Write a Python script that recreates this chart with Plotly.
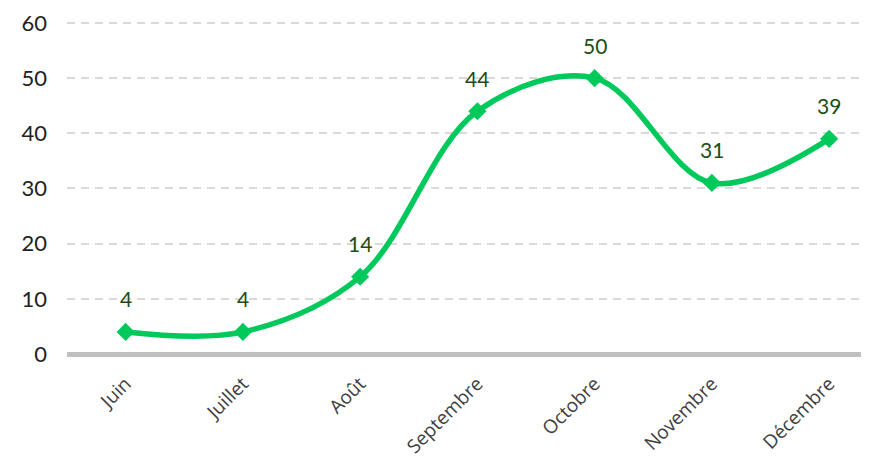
import plotly.graph_objects as go

months = ["Juin", "Juillet", "Août", "Septembre", "Octobre", "Novembre", "Décembre"]
values = [4, 4, 14, 44, 50, 31, 39]
y_ticks = [0, 10, 20, 30, 40, 50, 60]

line_color = "#00C95C"
label_color = "#1B4D14"

fig = go.Figure()
fig.add_trace(go.Scatter(
    x=months, y=values, mode="lines+markers",
    line=dict(color=line_color, width=5.5, shape="spline", smoothing=1.0),
    marker=dict(symbol="diamond", size=14, color=line_color),
    hoverinfo="skip", showlegend=False,
))
for m, v in zip(months, values):
    fig.add_annotation(x=m, y=v, text=str(v), showarrow=False, yshift=33,
                       font=dict(family="Lato", size=21, color=label_color))

fig.update_layout(
    width=861, height=459,
    margin=dict(l=59, r=0, t=10, b=113),
    plot_bgcolor="white", paper_bgcolor="white",
    xaxis=dict(type="category", range=[-0.5, 6.34], showgrid=False,
               tickangle=-45, ticks="", showline=False, zeroline=False,
               automargin=False, ticklabelstandoff=14,
               tickfont=dict(family="Open Sans", size=19, color="#404040")),
    yaxis=dict(range=[0, 60.9], tickvals=y_ticks, showgrid=True,
               gridcolor="#D9D9D9", griddash="8px,6px", gridwidth=1.5,
               zeroline=True, zerolinecolor="#BFBFBF", zerolinewidth=5,
               ticks="", ticklabelstandoff=19, automargin=False,
               tickfont=dict(family="Lato", size=22, color="#222222")),
)
fig.write_html("out.html")
